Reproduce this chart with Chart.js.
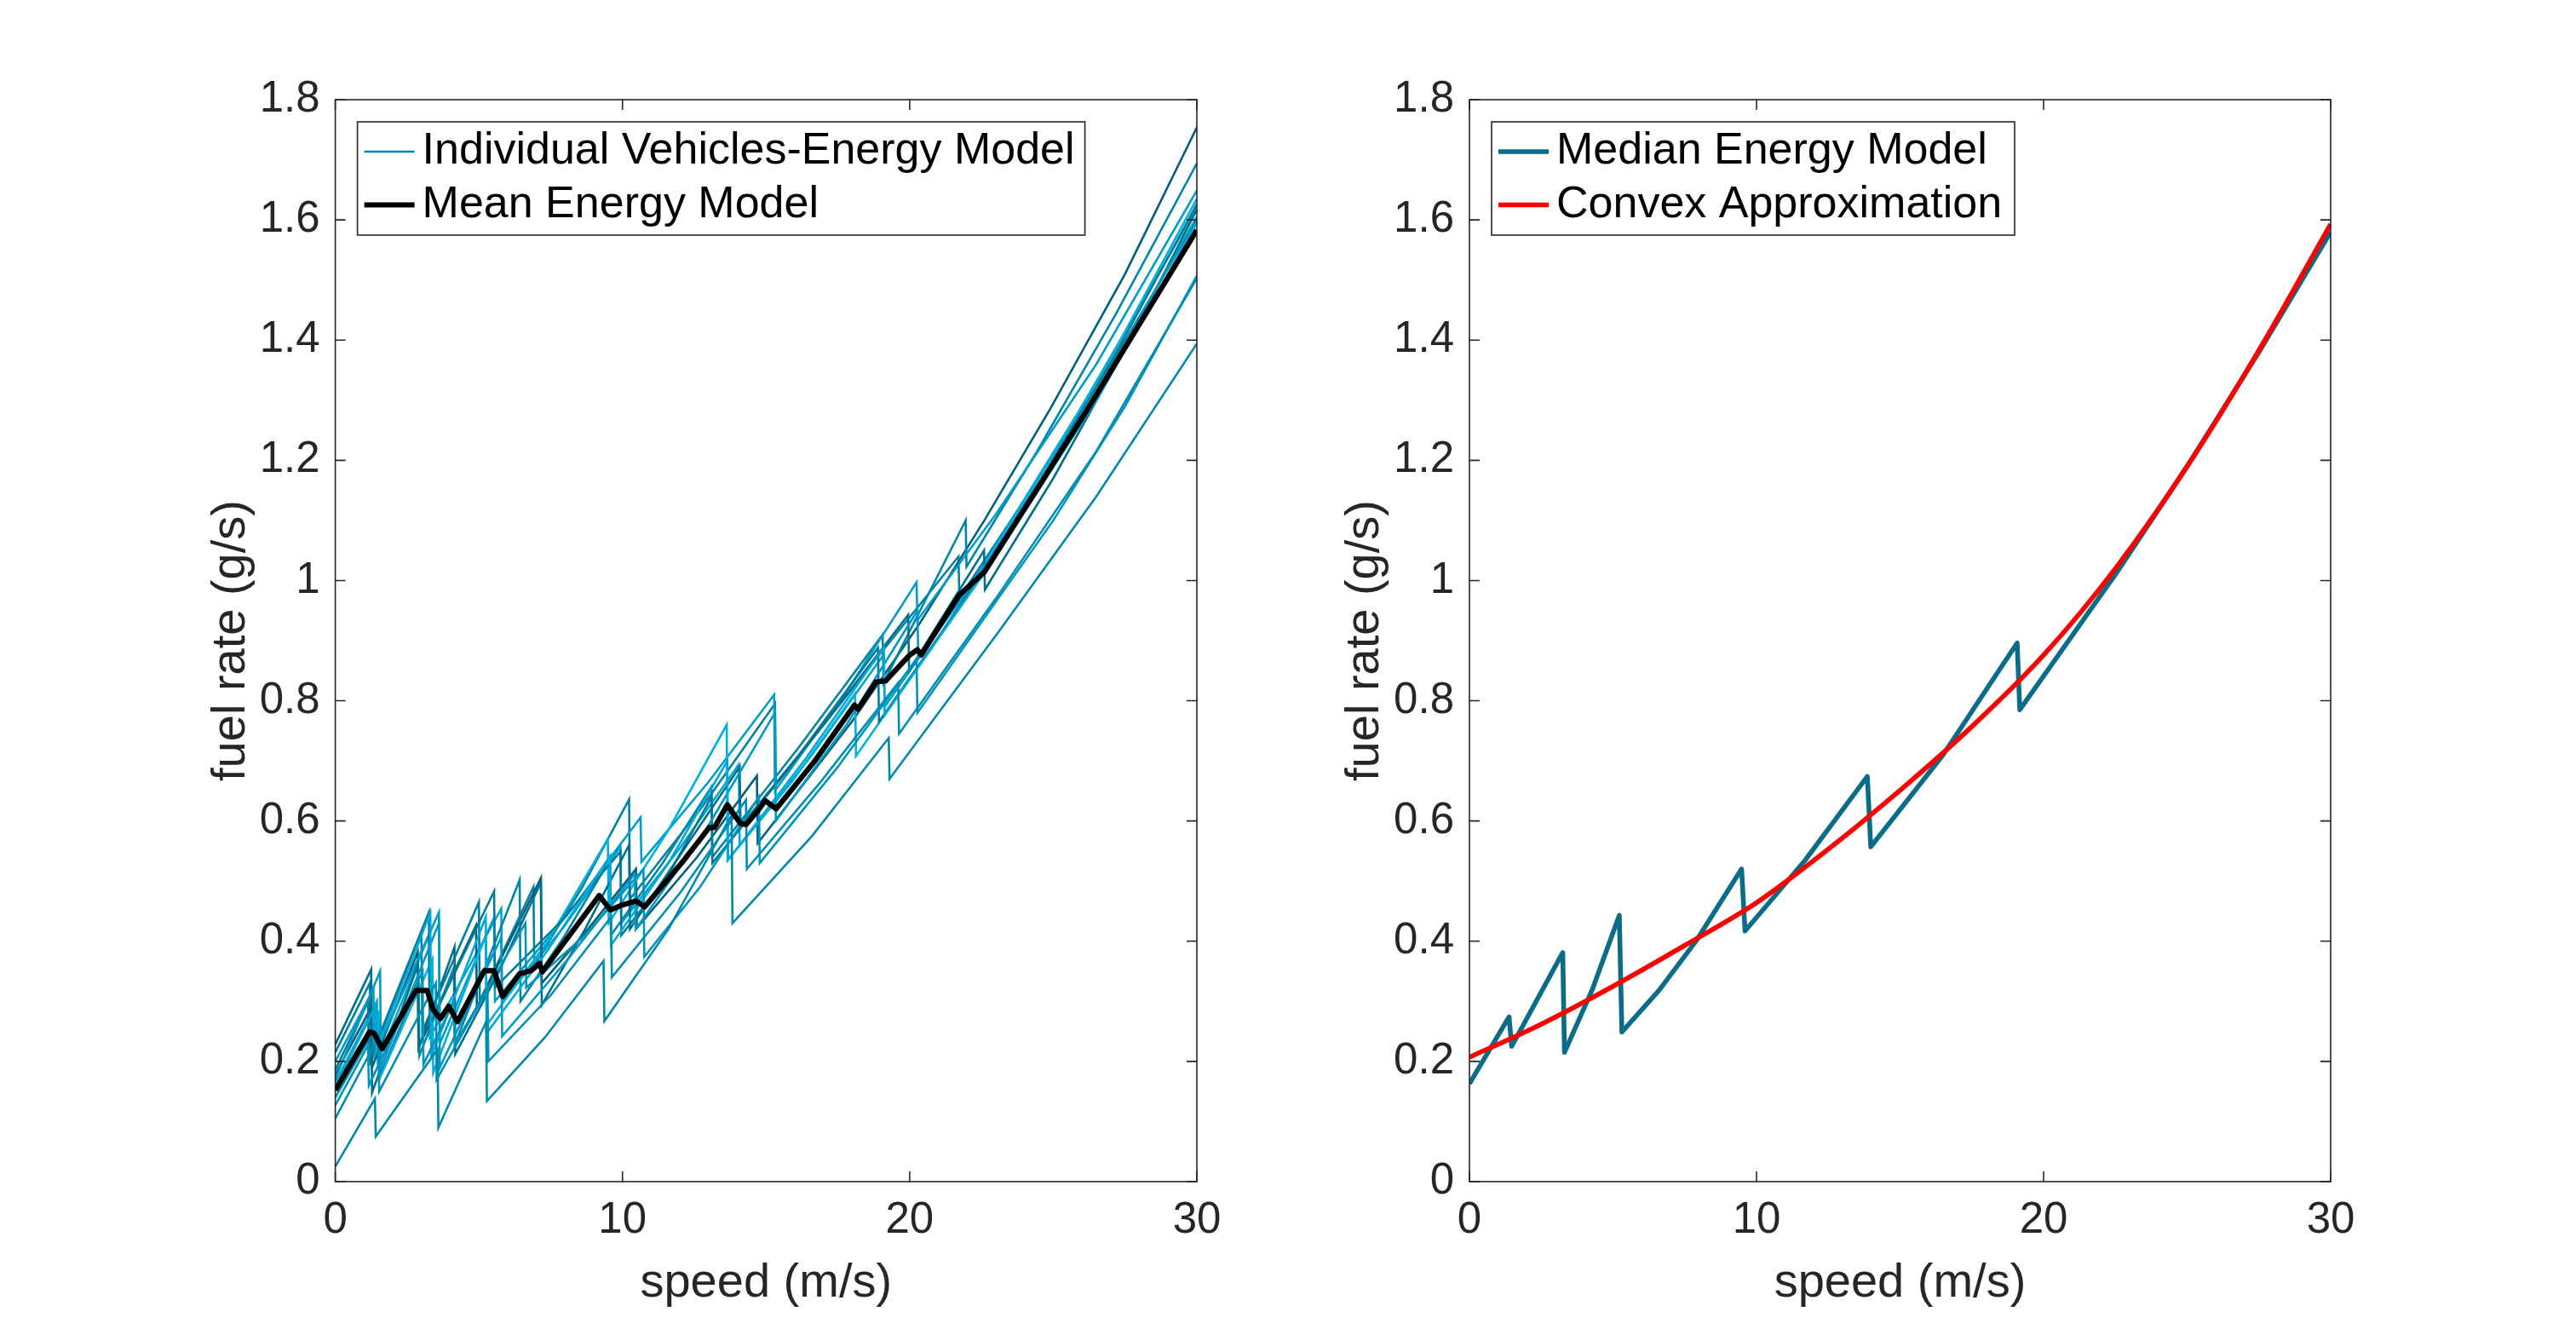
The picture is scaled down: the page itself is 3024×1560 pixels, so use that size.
<!DOCTYPE html>
<html lang="en">
<head>
  <meta charset="UTF-8" />
  <title>Fuel rate vs speed</title>
  <script src="https://cdn.jsdelivr.net/npm/chart.js"></script>
  <style>
    html, body { margin: 0; padding: 0; background: #fff; }
    body { width: 3024px; height: 1560px; position: relative; overflow: hidden; }
    .panel { position: absolute; top: 0; width: 1512px; height: 1560px; }
  </style>
</head>
<body>
  <div class="panel" style="left:0"><canvas id="leftChart" width="1512" height="1560"></canvas></div>
  <div class="panel" style="left:1512px"><canvas id="rightChart" width="1512" height="1560"></canvas></div>

  <script>
    // [speed (m/s), fuel rate (g/s)], one array per vehicle
    const veh01 = [[0,0.025],[1.38,0.138],[1.41,0.075],[3.56,0.22],[3.59,0.09],[5.25,0.266],[5.28,0.134],[7.3,0.24],[9.34,0.367],[9.37,0.267],[11.6,0.42],[13.8,0.61],[13.83,0.43],[16.6,0.575],[19.27,0.738],[19.3,0.67],[23.1,0.915],[26.5,1.14],[30,1.394]];
    const veh02 = [[0,0.105],[1.5,0.24],[1.53,0.15],[3.5,0.33],[3.53,0.17],[5.3,0.32],[5.33,0.2],[7.5,0.31],[9.6,0.44],[9.63,0.34],[12,0.48],[14.3,0.635],[14.33,0.52],[16.9,0.665],[19.6,0.83],[19.63,0.745],[23,0.97],[26.5,1.215],[30,1.503]];
    const veh03 = [[0,0.127],[1.14,0.227],[1.17,0.16],[3.04,0.35],[3.07,0.195],[4.13,0.3],[4.16,0.228],[6.62,0.43],[6.65,0.323],[8.7,0.41],[10.73,0.52],[10.76,0.374],[12.7,0.49],[14.75,0.64],[14.78,0.53],[17.5,0.69],[20.24,0.87],[20.27,0.78],[25,1.1],[27.5,1.29],[30,1.507]];
    const veh04 = [[0,0.157],[1.4,0.292],[1.43,0.219],[3.31,0.447],[3.34,0.208],[5.24,0.44],[5.27,0.247],[7.4,0.385],[9.57,0.542],[9.6,0.393],[11.6,0.53],[13.65,0.7],[13.68,0.535],[16.4,0.705],[19.1,0.889],[19.13,0.776],[23,1.04],[26.5,1.3],[30,1.595]];
    const veh05 = [[0,0.171],[1.56,0.35],[1.59,0.19],[3.61,0.43],[3.64,0.19],[5.78,0.407],[5.81,0.242],[8.1,0.37],[10.43,0.512],[10.46,0.42],[12.9,0.585],[15.31,0.78],[15.34,0.6],[17.8,0.76],[20.27,0.95],[20.3,0.87],[23,1.05],[26.5,1.31],[30,1.605]];
    const veh06 = [[0,0.228],[1.25,0.353],[1.28,0.148],[2.87,0.36],[2.9,0.223],[4.15,0.39],[4.18,0.212],[5.7,0.35],[7.16,0.498],[7.19,0.294],[8.7,0.42],[10.23,0.56],[10.26,0.42],[12.1,0.55],[14.08,0.69],[14.11,0.591],[17,0.76],[19.95,0.943],[19.98,0.85],[22.59,1.05],[22.62,0.985],[25,1.17],[27.5,1.385],[30,1.617]];
    const veh07 = [[0,0.186],[1.14,0.299],[1.17,0.2],[3.26,0.448],[3.29,0.261],[5.53,0.483],[5.56,0.323],[7.8,0.43],[9.93,0.549],[9.96,0.41],[11.6,0.51],[13.1,0.64],[13.13,0.53],[16,0.7],[18.9,0.888],[18.93,0.765],[21.5,0.94],[24.5,1.16],[27.2,1.38],[30,1.626]];
    const veh08 = [[0,0.152],[1.5,0.28],[1.53,0.17],[3.38,0.37],[3.41,0.181],[5.24,0.41],[5.27,0.26],[7.4,0.4],[9.49,0.57],[9.52,0.43],[11.6,0.585],[13.63,0.76],[13.66,0.535],[15.9,0.665],[18.1,0.812],[18.13,0.708],[21,0.905],[24,1.13],[27,1.37],[30,1.635]];
    const veh09 = [[0,0.2],[1.33,0.32],[1.36,0.21],[3.61,0.448],[3.64,0.23],[5.53,0.44],[5.56,0.3],[8.1,0.445],[10.63,0.606],[10.66,0.532],[13,0.665],[15.28,0.81],[15.31,0.65],[17.8,0.815],[20.24,0.997],[20.27,0.934],[23,1.11],[26.5,1.36],[30,1.649]];
    const veh10 = [[0,0.14],[1.56,0.27],[1.59,0.18],[2.9,0.33],[2.93,0.21],[4.13,0.356],[4.16,0.228],[6.42,0.502],[6.45,0.3],[8,0.41],[9.57,0.536],[9.6,0.41],[11.4,0.53],[13.1,0.657],[13.13,0.54],[16.1,0.72],[19.06,0.91],[19.09,0.83],[21.95,1.1],[21.98,1.023],[24.5,1.22],[27.2,1.445],[30,1.694]];
    const veh11 = [[0,0.178],[1.25,0.29],[1.28,0.19],[2.87,0.382],[2.9,0.223],[4.9,0.426],[4.93,0.29],[7.16,0.505],[7.19,0.33],[8.8,0.42],[10.47,0.52],[10.5,0.422],[12.6,0.54],[14.68,0.675],[14.71,0.563],[18,0.766],[20.3,0.925],[22.6,1.1],[24.9,1.286],[27.5,1.51],[30,1.754]];
    const veh12 = [[0,0.165],[1.45,0.3],[1.48,0.2],[3.26,0.41],[3.29,0.24],[5.78,0.454],[5.81,0.3],[7.9,0.42],[9.93,0.557],[9.96,0.43],[12,0.555],[14.05,0.694],[14.08,0.559],[16.6,0.71],[19.1,0.877],[19.13,0.79],[22.5,1.02],[26,1.29],[30,1.62]];
    const veh13 = [[0,0.215],[1.2,0.33],[1.23,0.2],[3,0.41],[3.03,0.25],[5,0.465],[5.03,0.3],[6.9,0.49],[6.93,0.36],[8.6,0.49],[10.23,0.636],[10.26,0.47],[12.8,0.625],[15.31,0.795],[15.34,0.66],[18.5,0.85],[21.7,1.04],[21.73,0.971],[24.5,1.17],[27.2,1.375],[30,1.6]];

    const meanModel = [[0,0.152],[1.19,0.249],[1.35,0.247],[1.63,0.221],[2.81,0.318],[3.2,0.318],[3.4,0.287],[3.66,0.271],[3.95,0.292],[4.25,0.266],[5.19,0.351],[5.53,0.351],[5.83,0.308],[6.42,0.346],[6.82,0.351],[7.11,0.363],[7.21,0.349],[9.19,0.476],[9.58,0.452],[9.98,0.46],[10.47,0.467],[10.77,0.457],[12.06,0.53],[13.02,0.589],[13.2,0.589],[13.65,0.627],[14.1,0.596],[14.3,0.594],[14.73,0.618],[14.97,0.634],[15.35,0.62],[16.7,0.7],[18.08,0.793],[18.2,0.786],[18.82,0.831],[19.16,0.833],[20.0,0.876],[20.27,0.885],[20.4,0.876],[21.71,0.975],[22.6,1.014],[26.09,1.277],[30,1.583]];

    const medianModel = [[0,0.163],[1.38,0.274],[1.47,0.225],[3.25,0.381],[3.31,0.215],[4.3,0.322],[5.22,0.443],[5.31,0.249],[6.6,0.318],[7.92,0.402],[9.48,0.52],[9.6,0.417],[11.7,0.535],[13.86,0.674],[13.98,0.557],[16.5,0.71],[19.08,0.896],[19.17,0.785],[22.5,1.01],[25,1.19],[27.5,1.38],[30,1.58]];
    const convexApprox = [[0,0.207],[2.5,0.262],[5,0.325],[7.5,0.393],[10,0.464],[12.5,0.553],[15,0.651],[17.5,0.757],[20,0.876],[22.5,1.02],[25,1.19],[27.5,1.383],[30,1.593]];

    const speedRange = [0, 30];
    const rateRange = [0, 1.8];
    const speedStep = 10;
    const rateStep = 0.2;

    const vehicles = [veh01, veh02, veh03, veh04, veh05, veh06, veh07, veh08, veh09, veh10, veh11, veh12, veh13];
    const vehicleColors = ['#0088AA', '#008FB3', '#0094BC', '#00A9D8', '#0099C6', '#006F8C', '#007B9A',
      '#00B0E0', '#009CCB', '#0086A6', '#005F7A', '#00A4D1', '#0081A2'];

    const FONT = '"Liberation Sans", Arial, Helvetica, sans-serif';
    const INK = '#262626';

    const toXY = pts => pts.map(p => ({ x: p[0], y: p[1] }));

    // matlab style box with inward ticks on all four sides
    const boxAxes = {
      id: 'boxAxes',
      afterDatasetsDraw(chart) {
        const { ctx, chartArea: a, scales: { x, y } } = chart;
        const len = 12;
        ctx.save();
        ctx.strokeStyle = INK;
        ctx.lineWidth = 1.6;
        ctx.beginPath();
        x.ticks.forEach(t => {
          const px = x.getPixelForValue(t.value);
          ctx.moveTo(px, a.bottom); ctx.lineTo(px, a.bottom - len);
          ctx.moveTo(px, a.top); ctx.lineTo(px, a.top + len);
        });
        y.ticks.forEach(t => {
          const py = y.getPixelForValue(t.value);
          ctx.moveTo(a.left, py); ctx.lineTo(a.left + len, py);
          ctx.moveTo(a.right, py); ctx.lineTo(a.right - len, py);
        });
        ctx.stroke();
        ctx.strokeRect(a.left, a.top, a.right - a.left, a.bottom - a.top);
        ctx.restore();
      }
    };

    // legend box in the top left corner of the plot
    const boxLegend = {
      id: 'boxLegend',
      afterDraw(chart, args, opts) {
        const { ctx, chartArea: a } = chart;
        const items = chart.data.datasets.filter(d => d.legendLabel);
        ctx.save();
        ctx.font = '52px ' + FONT;
        const textW = Math.max(...items.map(d => ctx.measureText(d.legendLabel).width));
        const left = a.left + 26, top = a.top + 26;
        const w = Math.max(opts.width, 76 + textW + 8), h = 133;
        ctx.fillStyle = '#fff';
        ctx.fillRect(left, top, w, h);
        ctx.strokeStyle = INK;
        ctx.lineWidth = 1.6;
        ctx.strokeRect(left, top, w, h);
        items.forEach((d, i) => {
          const cy = top + 35 + i * 62.5;
          ctx.strokeStyle = d.borderColor;
          ctx.lineWidth = d.borderWidth;
          ctx.beginPath();
          ctx.moveTo(left + 8, cy);
          ctx.lineTo(left + 67, cy);
          ctx.stroke();
          ctx.fillStyle = '#000';
          ctx.textBaseline = 'middle';
          ctx.textAlign = 'left';
          ctx.fillText(d.legendLabel, left + 76, cy);
        });
        ctx.restore();
      }
    };

    function makeScales(yWidth, yTitlePad) {
      return {
        x: {
          type: 'linear',
          min: speedRange[0],
          max: speedRange[1],
          ticks: {
            stepSize: speedStep, padding: 15, maxRotation: 0, autoSkip: false,
            color: INK, font: { family: FONT, size: 51 }
          },
          grid: { display: false, drawTicks: false },
          border: { display: false },
          title: {
            display: true, text: 'speed (m/s)', color: INK,
            font: { family: FONT, size: 56 }, padding: { top: 0, bottom: 20 }
          },
          afterFit: s => { s.height = 173; }
        },
        y: {
          type: 'linear',
          min: rateRange[0],
          max: rateRange[1],
          ticks: {
            stepSize: rateStep, padding: 18, autoSkip: false,
            color: INK, font: { family: FONT, size: 51 },
            callback: v => String(Number(v.toFixed(1)))
          },
          grid: { display: false, drawTicks: false },
          border: { display: false },
          title: {
            display: true, text: 'fuel rate (g/s)', color: INK,
            font: { family: FONT, size: 56 }, padding: { top: yTitlePad, bottom: 0 }
          },
          afterFit: s => { s.width = yWidth; }
        }
      };
    }

    function baseOptions(padRight, yWidth, yTitlePad, legendWidth) {
      return {
        responsive: false,
        animation: false,
        events: [],
        layout: { padding: { top: 117, right: padRight, left: 0, bottom: 0 } },
        elements: { point: { radius: 0 }, line: { tension: 0 } },
        plugins: {
          legend: { display: false },
          tooltip: { enabled: false },
          boxLegend: { width: legendWidth }
        },
        scales: makeScales(yWidth, yTitlePad)
      };
    }

    const leftSets = vehicles.map((pts, i) => ({
      data: toXY(pts),
      borderColor: vehicleColors[i],
      borderWidth: 2.6,
      order: 1,
      legendLabel: i === 0 ? 'Individual Vehicles-Energy Model' : undefined
    }));
    leftSets.push({
      data: toXY(meanModel),
      borderColor: '#000000',
      borderWidth: 6.2,
      borderJoinStyle: 'round',
      order: 0,
      legendLabel: 'Mean Energy Model'
    });

    new Chart(document.getElementById('leftChart'), {
      type: 'line',
      data: { datasets: leftSets },
      options: baseOptions(107, 393.6, 238, 854),
      plugins: [boxAxes, boxLegend]
    });

    new Chart(document.getElementById('rightChart'), {
      type: 'line',
      data: {
        datasets: [{
          data: toXY(medianModel),
          borderColor: '#0B6C88',
          borderWidth: 5.6,
          borderJoinStyle: 'round',
          order: 1,
          legendLabel: 'Median Energy Model'
        }, {
          data: toXY(convexApprox),
          borderColor: '#FF0000',
          borderWidth: 5.6,
          cubicInterpolationMode: 'monotone',
          order: 0,
          legendLabel: 'Convex Approximation'
        }]
      },
      options: baseOptions(288, 213, 57, 614),
      plugins: [boxAxes, boxLegend]
    });
  </script>
</body>
</html>
